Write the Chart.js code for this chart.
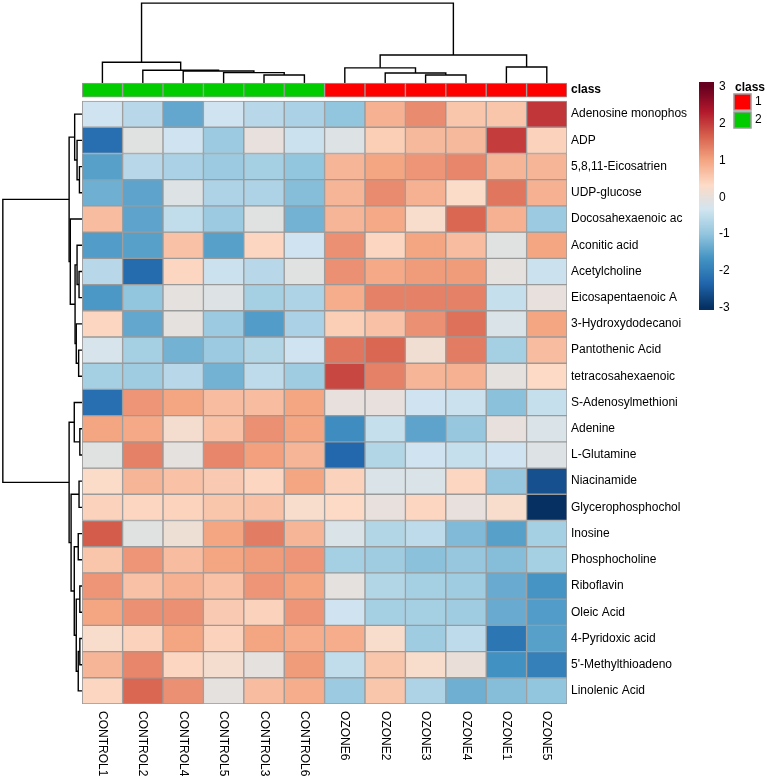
<!DOCTYPE html>
<html>
<head>
<meta charset="utf-8">
<script src="https://cdn.jsdelivr.net/npm/chart.js@4.4.1/dist/chart.umd.min.js"></script>
<style>
  html, body { margin: 0; padding: 0; background: #fff; }
  #wrap { position: relative; width: 767px; height: 778px; }
</style>
</head>
<body>
<div id="wrap"><canvas id="heat"></canvas></div>
<script>
// columns of the heatmap, in dendrogram order
const samples = ['CONTROL1', 'CONTROL2', 'CONTROL4', 'CONTROL5', 'CONTROL3', 'CONTROL6',
                 'OZONE6', 'OZONE2', 'OZONE3', 'OZONE4', 'OZONE1', 'OZONE5'];
const sampleClass = [2, 2, 2, 2, 2, 2, 1, 1, 1, 1, 1, 1];
const classColors = { 1: '#FF0000', 2: '#00CC00' };

const metabolites = ['Adenosine monophos', 'ADP', '5,8,11-Eicosatrien', 'UDP-glucose',
  'Docosahexaenoic ac', 'Aconitic acid', 'Acetylcholine', 'Eicosapentaenoic A',
  '3-Hydroxydodecanoi', 'Pantothenic Acid', 'tetracosahexaenoic', 'S-Adenosylmethioni',
  'Adenine', 'L-Glutamine', 'Niacinamide', 'Glycerophosphochol', 'Inosine',
  'Phosphocholine', 'Riboflavin', 'Oleic Acid', '4-Pyridoxic acid', '5\'-Methylthioadeno',
  'Linolenic Acid'];

// scaled values (z-score), one row per metabolite, same column order as samples
const values = [
  [-0.35, -0.6, -1.4, -0.35, -0.6, -0.75, -1.0, 0.85, 1.25, 0.6, 0.6, 2.05],
  [-2.2, -0.1, -0.35, -0.9, 0.0, -0.4, -0.15, 0.5, 0.75, 0.75, 2.0, 0.45],
  [-1.5, -0.6, -0.75, -0.9, -0.8, -1.0, 0.8, 1.0, 1.15, 1.3, 0.8, 0.8],
  [-1.3, -1.45, -0.15, -0.7, -0.7, -1.1, 0.8, 1.25, 0.85, 0.3, 1.45, 0.85],
  [0.7, -1.45, -0.5, -0.9, -0.1, -1.25, 0.8, 0.95, 0.25, 1.6, 0.85, -0.9],
  [-1.55, -1.5, 0.65, -1.5, 0.4, -0.35, 1.2, 0.4, 1.0, 0.7, -0.1, 1.0],
  [-0.6, -2.25, 0.4, -0.4, -0.6, -0.1, 1.2, 0.95, 1.1, 1.1, -0.05, -0.4],
  [-1.6, -1.0, -0.05, -0.15, -0.8, -0.7, 0.9, 1.35, 1.35, 1.35, -0.45, 0.0],
  [0.4, -1.4, -0.05, -0.9, -1.55, -0.75, 0.5, 0.65, 1.2, 1.5, -0.2, 1.0],
  [-0.25, -0.8, -1.25, -0.9, -0.65, -0.35, 1.45, 1.6, 0.15, 1.4, -0.8, 0.7],
  [-0.8, -0.85, -0.6, -1.25, -0.55, -0.85, 1.9, 1.35, 0.8, 0.85, -0.05, 0.35],
  [-2.2, 1.15, 1.0, 0.7, 0.7, 1.0, 0.0, 0.0, -0.35, -0.4, -1.05, -0.45],
  [1.0, 0.95, 0.2, 0.65, 1.2, 1.0, -1.75, -0.45, -1.45, -0.95, 0.0, -0.2],
  [-0.1, 1.35, -0.05, 1.3, 1.05, 0.8, -2.3, -0.65, -0.35, -0.45, -0.35, -0.15],
  [0.3, 0.8, 0.65, 0.55, 0.4, 1.0, 0.45, -0.2, -0.2, 0.4, -0.95, -2.6],
  [0.45, 0.4, 0.42, 0.6, 0.65, 0.25, 0.35, 0.0, 0.4, 0.0, 0.25, -3.0],
  [1.7, -0.1, 0.1, 1.0, 1.4, 0.8, -0.2, -0.65, -0.55, -1.15, -1.5, -0.8],
  [0.6, 1.15, 0.7, 1.0, 1.1, 1.15, -0.8, -0.85, -1.05, -0.95, -1.1, -0.8],
  [1.15, 0.65, 0.85, 0.65, 1.15, 1.0, -0.05, -0.65, -0.8, -0.85, -1.35, -1.65],
  [1.0, 1.2, 1.2, 0.55, 0.45, 1.15, -0.35, -0.8, -0.8, -0.85, -1.35, -1.55],
  [0.25, 0.45, 1.0, 0.45, 1.0, 0.9, 0.9, 0.25, -0.85, -0.55, -2.1, -1.5],
  [0.8, 1.3, 0.4, 0.2, -0.05, 1.1, -0.5, 0.6, 0.25, 0.05, -1.7, -1.95],
  [0.4, 1.6, 1.2, -0.05, 0.7, 0.9, -0.9, 0.6, -0.7, -1.3, -1.1, -1.0]
];

// column clustering (hclust style: negative = leaf, positive = earlier merge)
const colMerge = [[-5, -6], [-9, -10], [-8, 2], [-4, 1], [-3, 4], [-2, 5], [-7, 3],
                  [-11, -12], [-1, 6], [7, 8], [9, 10]];
const colHeight = [1.0, 1.0, 1.25, 1.3, 1.5, 1.6, 1.9, 2.0, 2.6, 3.5, 10];

// row clustering
const rowMerge = [[-3, -4], [-2, 1], [-1, 2], [-7, -8], [-6, 4], [-10, -11], [-9, 6], [5, 7],
                  [-5, 8], [3, 9], [-13, -14], [-12, 11], [-15, -16], [-17, -18], [-19, -20],
                  [-21, -22], [16, -23], [15, 17], [14, 18], [13, 19], [12, 20], [10, 21]];
const rowHeight = [0.35, 0.65, 0.95, 0.4, 0.65, 0.45, 0.75, 0.9, 1.5, 1.65, 0.3, 1.0,
                   0.4, 0.5, 0.3, 0.3, 0.5, 0.75, 1.0, 1.4, 1.65, 10];

const legendTicks = [3, 2, 1, 0, -1, -2, -3];
const scaleMin = -3, scaleMax = 3;

// reversed RdBu
const palette = ['#053061', '#2166AC', '#4393C3', '#92C5DE', '#D1E5F0',
                 '#FDDBC7', '#F4A582', '#D6604D', '#B2182B', '#67001F'];
const pal = palette.map(h => [1, 3, 5].map(i => parseInt(h.substr(i, 2), 16)));
function colorFor(v) {
  const t = Math.max(0, Math.min(1, (v - scaleMin) / (scaleMax - scaleMin))) * (pal.length - 1);
  const i = Math.min(pal.length - 2, Math.floor(t));
  const f = t - i;
  const c = pal[i].map((a, k) => Math.round(a + (pal[i + 1][k] - a) * f));
  return 'rgb(' + c.join(',') + ')';
}

// axis extents (in cell units) leave room for dendrograms and class bar
const X_MIN = -2.035;
const Y_MIN = -3.855;
const CLASS_TOP = -0.687, CLASS_BOTTOM = -0.153;
const COL_DENDRO_SCALE = 0.305;
const ROW_DENDRO_SCALE = 0.1965;
const FONT = "'Liberation Sans', Arial, sans-serif";

function dendroSegments(merge, height, toXY) {
  const pos = [], hgt = [];
  const info = id => id < 0 ? { p: -id - 0.5, h: 0 } : { p: pos[id - 1], h: hgt[id - 1] };
  return merge.map(([a, b], k) => {
    const A = info(a), B = info(b), h = height[k];
    pos.push((A.p + B.p) / 2);
    hgt.push(h);
    return [toXY(A.p, A.h), toXY(A.p, h), toXY(B.p, h), toXY(B.p, B.h)];
  });
}

const colSegs = dendroSegments(colMerge, colHeight, (p, h) => ({ x: p, y: CLASS_TOP - h * COL_DENDRO_SCALE }));
const rowSegs = dendroSegments(rowMerge, rowHeight, (p, h) => ({ x: -h * ROW_DENDRO_SCALE, y: p }));

const barCommon = { type: 'bar', grouped: false, barPercentage: 1, categoryPercentage: 1,
                    borderColor: '#9a9a9a', borderWidth: 1, borderSkipped: false };

const datasets = [];
metabolites.forEach((m, r) => {
  datasets.push(Object.assign({}, barCommon, {
    label: m,
    data: samples.map((s, c) => ({ x: c + 0.5, y: [r, r + 1] })),
    backgroundColor: values[r].map(colorFor)
  }));
});
datasets.push(Object.assign({}, barCommon, {
  label: 'class',
  data: samples.map((s, c) => ({ x: c + 0.5, y: [CLASS_TOP, CLASS_BOTTOM] })),
  backgroundColor: sampleClass.map(k => classColors[k])
}));
colSegs.concat(rowSegs).forEach(seg => {
  datasets.push({ type: 'line', data: seg, borderColor: '#000', borderWidth: 1.4,
                  pointRadius: 0, fill: false, tension: 0 });
});

// column names and the colour key
const extras = {
  id: 'extras',
  afterDraw(chart) {
    const ctx = chart.ctx;
    const xs = chart.scales.x;
    ctx.save();
    ctx.fillStyle = '#000';
    ctx.font = '12px ' + FONT;
    ctx.textAlign = 'left';
    ctx.textBaseline = 'middle';
    samples.forEach((s, i) => {
      ctx.save();
      ctx.translate(xs.getPixelForValue(i + 0.5), chart.chartArea.bottom + 7);
      ctx.rotate(Math.PI / 2);
      ctx.fillText(s, 0, 0);
      ctx.restore();
    });

    // colour bar
    const bx = 699, bw = 15, by0 = 82, by1 = 310;
    const y0 = 197.3, step = 36.8;
    for (let y = by0; y < by1; y++) {
      ctx.fillStyle = colorFor((y0 - (y + 0.5)) / step);
      ctx.fillRect(bx, y, bw, 1);
    }
    ctx.fillStyle = '#000';
    legendTicks.forEach(t => ctx.fillText(String(t), bx + 20, y0 - t * step));

    // class key
    ctx.font = 'bold 12px ' + FONT;
    ctx.fillText('class', 735, 88);
    ctx.font = '12px ' + FONT;
    [1, 2].forEach((k, i) => {
      const yy = 94 + i * 18;
      ctx.fillStyle = classColors[k];
      ctx.fillRect(734, yy, 17, 16);
      ctx.strokeStyle = '#9a9a9a';
      ctx.lineWidth = 1.5;
      ctx.strokeRect(734, yy, 17, 16);
      ctx.fillStyle = '#000';
      ctx.fillText(String(k), 755, yy + 8);
    });
    ctx.restore();
  }
};

new Chart(document.getElementById('heat'), {
  type: 'bar',
  data: { datasets },
  options: {
    responsive: true,
    maintainAspectRatio: false,
    animation: false,
    layout: { padding: { left: 0, top: 0, right: 0, bottom: 74 } },
    plugins: { legend: { display: false }, tooltip: { enabled: false } },
    scales: {
      x: {
        type: 'linear', display: false, offset: false, min: X_MIN, max: samples.length, bounds: 'data',
        grid: { offset: false },
        afterBuildTicks: s => { s.ticks = samples.map((n, i) => ({ value: i + 0.5 })); }
      },
      y: {
        type: 'linear', position: 'right', reverse: true, bounds: 'data', offset: false,
        min: Y_MIN, max: metabolites.length,
        grid: { display: false, drawTicks: false, tickLength: 0 }, border: { display: false },
        afterBuildTicks: s => {
          s.ticks = [{ value: (CLASS_TOP + CLASS_BOTTOM) / 2 }]
            .concat(metabolites.map((m, i) => ({ value: i + 0.5 })));
        },
        afterFit: s => { s.width = 200; s.paddingTop = 0; s.paddingBottom = 0; },
        ticks: {
          autoSkip: false, padding: 4, color: '#000',
          font: c => ({ family: FONT, size: 12, weight: c.tick && c.tick.value < 0 ? 'bold' : 'normal' }),
          callback: v => v < 0 ? 'class' : metabolites[Math.floor(v)]
        }
      }
    }
  },
  plugins: [extras]
});
</script>
</body>
</html>
